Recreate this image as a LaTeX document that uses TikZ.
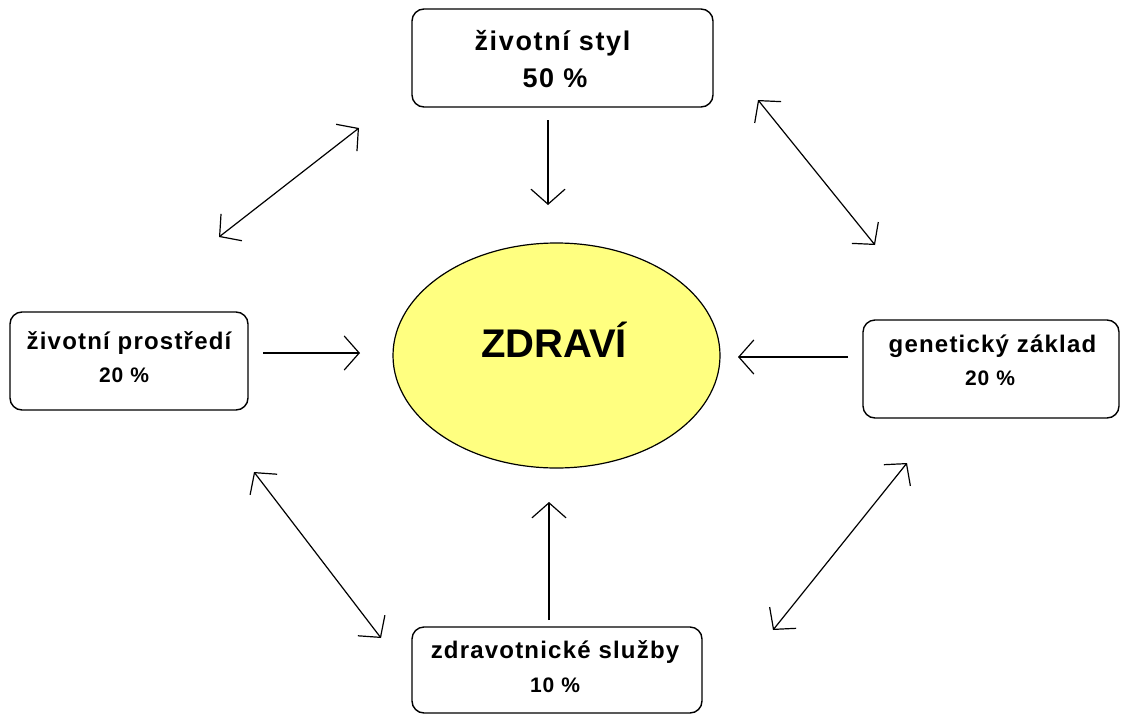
\documentclass[tikz,border=0pt]{standalone}
\usepackage{fontspec}
\setmainfont{Liberation Sans}
\newfontfamily\lblfont[LetterSpace=5]{Liberation Sans}
\usetikzlibrary{arrows.meta,shapes.geometric}
\definecolor{ellfill}{RGB}{255,255,128}
\begin{document}
\begin{tikzpicture}[x=1pt,y=-1pt,
  box/.style={draw=black,line width=1.4pt,rounded corners=12pt,rectangle,inner sep=0pt},
  txt/.style={anchor=base,inner sep=0pt,font=\lblfont\bfseries\fontsize{24}{26}\selectfont},
  txtb/.style={anchor=base,inner sep=0pt,font=\lblfont\bfseries\fontsize{21}{24}\selectfont},
  txttop/.style={anchor=base,inner sep=0pt,font=\addfontfeatures{LetterSpace=6}\bfseries\fontsize{27}{30}\selectfont},
  conn/.style={line width=1.2pt,-{Straight Barb[length=15pt,width=34pt,line width=1.2pt]}},
  dconn/.style={line width=1.2pt,{Straight Barb[length=15pt,width=34pt,line width=1.2pt]}-{Straight Barb[length=15pt,width=34pt,line width=1.2pt]}}
]
\useasboundingbox[fill=white] (0,0) rectangle (1121,715);

% boxes
\node[box,minimum width=301pt,minimum height=98pt] (top) at (562.5,58) {};
\node[box,minimum width=238pt,minimum height=98pt] (left) at (129,361) {};
\node[box,minimum width=256pt,minimum height=98pt] (right) at (991,369) {};
\node[box,minimum width=290pt,minimum height=86pt] (bottom) at (557,670) {};
\node[ellipse,draw=black,line width=1.2pt,fill=ellfill,minimum width=327pt,minimum height=225pt,inner sep=0pt] (zdravi) at (556.5,355.5) {};

% texts
\node[txttop] (t1) at (552.5,50) {životní styl};
\node[txttop] (t2) at (555,87) {50 \%};
\node[txt] (l1) at (129,349) {životní prostředí};
\node[txtb] (l2) at (124,382) {20 \%};
\node[txt] (r1) at (992.5,352) {genetický základ};
\node[txtb] (r2) at (990,385) {20 \%};
\node[txt] (b1) at (555,658) {zdravotnické služby};
\node[txtb] (b2) at (555,692) {10 \%};
\node[anchor=base,inner sep=0pt,font=\bfseries\fontsize{40}{44}\selectfont] (z) at (554,357) {ZDRAVÍ};

% arrow end points
\coordinate (ta) at (548,120);
\coordinate (tb) at (548,205);
\coordinate (la) at (263,353);
\coordinate (lb) at (360,353);
\coordinate (ra) at (848,357);
\coordinate (rb) at (738,357);
\coordinate (ba) at (549,620);
\coordinate (bb) at (549,502);
\coordinate (d1a) at (359,128);
\coordinate (d1b) at (219,237);
\coordinate (d2a) at (758,100);
\coordinate (d2b) at (875,245);
\coordinate (d3a) at (254,472);
\coordinate (d3b) at (381,638);
\coordinate (d4a) at (907,463);
\coordinate (d4b) at (773,630);

\draw[conn] (ta) -- (tb);
\draw[conn] (la) -- (lb);
\draw[conn] (ra) -- (rb);
\draw[conn] (ba) -- (bb);
\draw[dconn] (d1a) -- (d1b);
\draw[dconn] (d2a) -- (d2b);
\draw[dconn] (d3a) -- (d3b);
\draw[dconn] (d4a) -- (d4b);
\end{tikzpicture}
\end{document}
